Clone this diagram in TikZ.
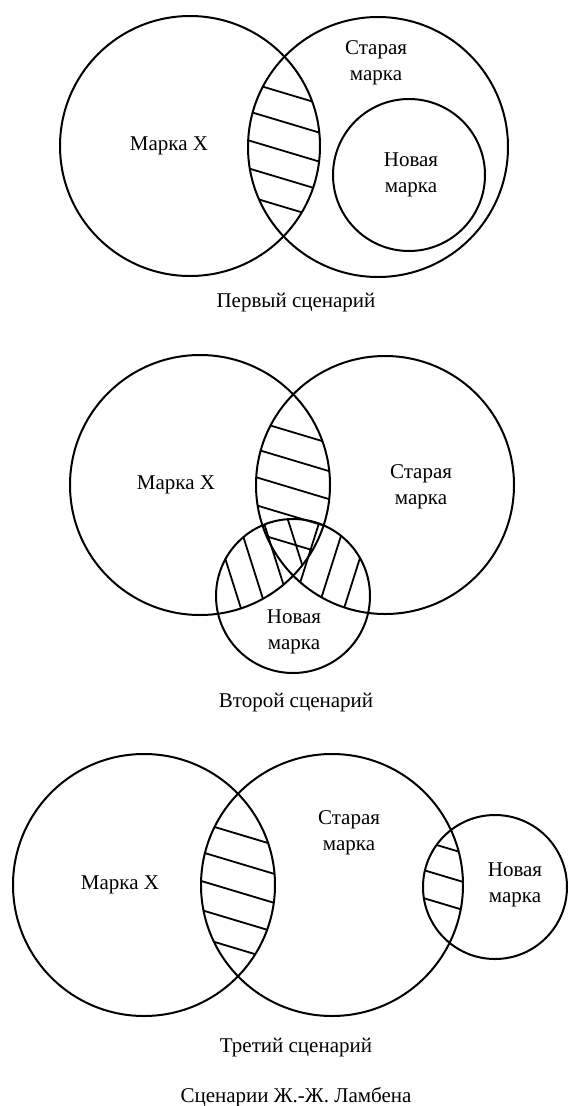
\documentclass[tikz,border=0pt]{standalone}
\usepackage{fontspec}
\setmainfont{Liberation Serif}
\tikzset{
  ring/.style={line width=2pt},
  hatch/.style={line width=1.8pt},
  brandtext/.style={font=\fontsize{21}{26}\selectfont, align=center, inner sep=0pt},
}

\begin{document}
\begin{tikzpicture}[x=1pt,y=-1pt]
  \useasboundingbox (0,0) rectangle (568,1106);

  % first scenario
  \begin{scope}
    \clip (190,146) circle[radius=130pt];
    \clip (378,147) circle[radius=130pt];
    \foreach \y in {93,122,151,179,207}
      \draw[hatch] (224,\y-18) -- (344,\y+18);
  \end{scope}
  \draw[ring] (190,146) circle[radius=130pt];
  \draw[ring] (378,147) circle[radius=130pt];
  \draw[ring] (409,175) circle[radius=76pt];
  \node[brandtext] (brandx1) at (169,146) {Марка X};
  \node[brandtext] (old1) at (376,63) {Старая\\марка};
  \node[brandtext] (new1) at (411,175) {Новая\\марка};
  \node[brandtext] (title1) at (296,303) {Первый сценарий};

  % second scenario
  \begin{scope}
    \clip (200,485) circle[radius=130pt];
    \clip (385,485) circle[radius=129pt];
    \foreach \y in {432,460,488,516,544}
      \draw[hatch] (232,\y-18) -- (352,\y+18);
  \end{scope}
  \begin{scope}
    \clip (293,596) circle[radius=77pt];
    \clip (200,485) circle[radius=130pt];
    \foreach \x in {232,257,282,307}
      \draw[hatch] (\x-19,520) -- (\x+19,640);
  \end{scope}
  \begin{scope}
    \clip (293,596) circle[radius=77pt];
    \clip (385,485) circle[radius=129pt];
    \foreach \x in {301,327,353}
      \draw[hatch] (\x+19,520) -- (\x-19,640);
  \end{scope}
  \draw[ring] (200,485) circle[radius=130pt];
  \draw[ring] (385,485) circle[radius=129pt];
  \draw[ring] (293,596) circle[radius=77pt];
  \node[brandtext] (brandx2) at (176,485) {Марка X};
  \node[brandtext] (old2) at (421,487) {Старая\\марка};
  \node[brandtext] (new2) at (294,632) {Новая\\марка};
  \node[brandtext] (title2) at (296,703) {Второй сценарий};

  % third scenario
  \begin{scope}
    \clip (144,885) circle[radius=131pt];
    \clip (332,885) circle[radius=131pt];
    \foreach \y in {834,863,892,921,949}
      \draw[hatch] (178,\y-18) -- (298,\y+18);
  \end{scope}
  \begin{scope}
    \clip (332,885) circle[radius=131pt];
    \clip (495,887) circle[radius=72pt];
    \foreach \y in {849,878,906}
      \draw[hatch] (410,\y-12) -- (490,\y+12);
  \end{scope}
  \draw[ring] (144,885) circle[radius=131pt];
  \draw[ring] (332,885) circle[radius=131pt];
  \draw[ring] (495,887) circle[radius=72pt];
  \node[brandtext] (brandx3) at (120,885) {Марка X};
  \node[brandtext] (old3) at (349,833) {Старая\\марка};
  \node[brandtext] (new3) at (515,885) {Новая\\марка};
  \node[brandtext] (title3) at (296,1048) {Третий сценарий};
  \node[brandtext] (caption) at (296,1097) {Сценарии Ж.-Ж. Ламбена};
\end{tikzpicture}
\end{document}
